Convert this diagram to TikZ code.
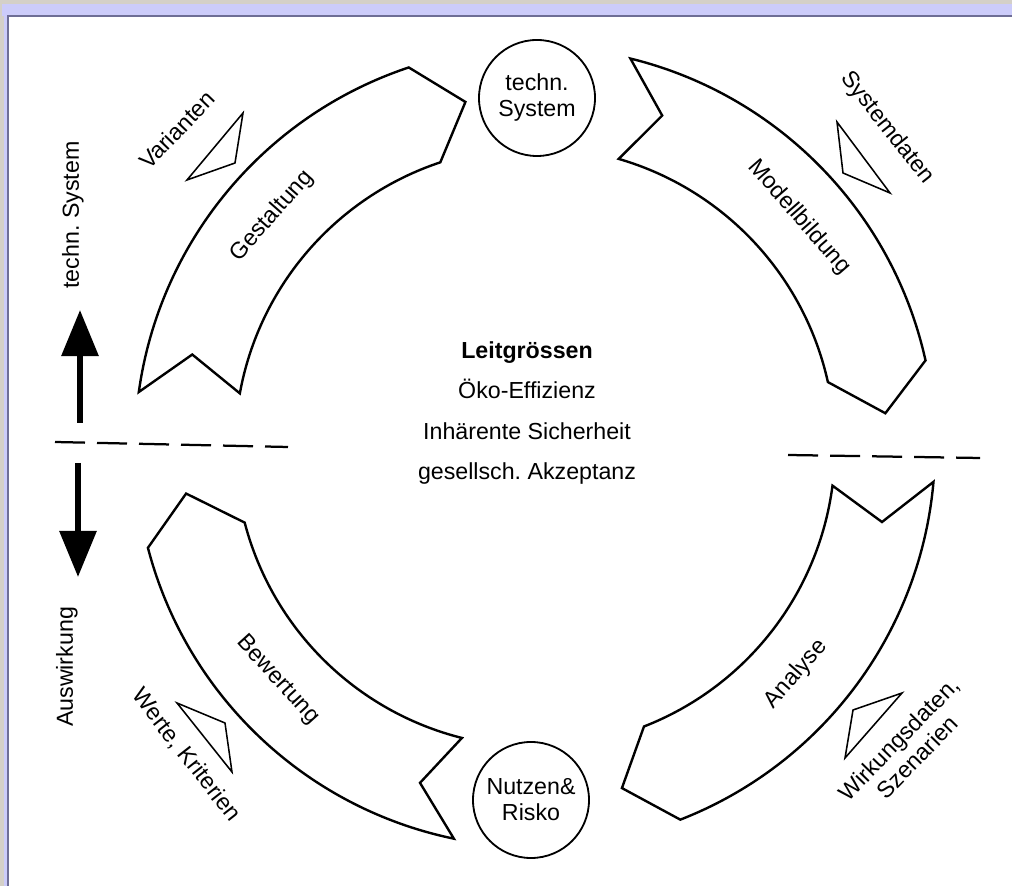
\documentclass[tikz,border=0pt]{standalone}
\usepackage{fontspec}
\setmainfont{Liberation Sans}
\usetikzlibrary{arrows.meta}
\definecolor{winframe}{RGB}{212,208,200}
\definecolor{winbar}{RGB}{204,204,250}
\definecolor{winedge}{RGB}{110,110,150}
\frenchspacing
\newcommand*{\cyclefont}{\fontsize{16.5}{18.5}\selectfont}
% one curved arrow of the cycle, #1 = angle of its notched tail
\newcommand*{\cyclearrow}[1]{%
  \draw[band] (#1+1.2:400) arc[start angle=#1+1.2, end angle=#1-62.5, radius=400]
    -- (#1-69.5:352) -- (#1-62.5:300)
    arc[start angle=#1-62.5, end angle=#1-1.2, radius=300]
    -- (#1-6:355) -- cycle;}

\begin{document}
\begin{tikzpicture}[x=0.025cm, y=0.025cm, >={Triangle[length=1.15cm,width=0.9cm]},
    band/.style={draw, line width=1.7pt, fill=white},
    hub/.style={draw, circle, line width=1.3pt, minimum size=2.9cm, inner sep=0pt, align=center, font=\cyclefont},
    cue/.style={draw, line width=1.1pt},
    tag/.style={font=\cyclefont, inner sep=0pt, align=center},
    split/.style={line width=1.6pt, dash pattern=on 0.75cm off 0.3cm}
  ]
  \useasboundingbox (0,0) rectangle (1012,886);
  % window frame
  \fill[winframe] (0,0) rectangle (1012,886);
  \fill[winbar] (2,870) rectangle (1012,882);
  \fill[winbar] (4,0) rectangle (8,882);
  \fill[white] (8,0) rectangle (1012,870);
  \draw[winedge, line width=0.8pt] (8,0) -- (8,870) -- (1012,870);

  % the cycle
  \begin{scope}[shift={(535,439)}]
    \cyclearrow{170.9}
    \cyclearrow{75}
    \cyclearrow{-6.2}
    \cyclearrow{257.1}
    \node[tag, rotate=48.7] (gest) at (138.7:350) {Gestaltung};
    \node[tag, rotate=-49] (modell) at (41:350) {Modellbildung};
    \node[tag, rotate=49] (analyse) at (-41:346) {Analyse};
    \node[tag, rotate=-47.8] (bewert) at (222.2:347) {Bewertung};
  \end{scope}
  \node[hub] (system) at (537,788) {techn.\\System};
  \node[hub] (nutzen) at (531,86) {Nutzen\&\\Risko};
  \node[tag, font=\fontsize{16.5}{28.5}\selectfont] (leit) at (527,473)
    {\textbf{Leitgrössen}\\Öko-Effizienz\\Inhärente Sicherheit\\gesellsch. Akzeptanz};

  % inputs of the steps
  \node[tag, rotate=46] (var) at (177,756) {Varianten};
  \draw[cue] (243,773) -- (235,723) -- (187,706) -- cycle;
  \node[tag, rotate=-51.6] (sysd) at (887,758) {Systemdaten};
  \draw[cue] (837,764) -- (843,713) -- (890,693) -- cycle;
  \node[tag, rotate=45.7] (wirk) at (908,138) {Wirkungsdaten,\\Szenarien};
  \draw[cue] (853,176) -- (902,193) -- (845,128) -- cycle;
  \node[tag, rotate=-52] (werte) at (186,131) {Werte, Kriterien};
  \draw[cue] (177,183) -- (225,163) -- (232,114) -- cycle;

  % left axis
  \node[tag, rotate=90] (techn) at (73,671) {techn. System};
  \node[tag, rotate=90] (ausw) at (67,219) {Auswirkung};
  \coordinate (upfoot) at (80,463);
  \coordinate (uptip) at (80,576);
  \coordinate (downfoot) at (78,423);
  \coordinate (downtip) at (78,309);
  \draw[->, line width=4.3pt] (upfoot) -- (uptip);
  \draw[->, line width=4.3pt] (downfoot) -- (downtip);
  \coordinate (lcutA) at (55,444);
  \coordinate (lcutB) at (288,439);
  \coordinate (rcutA) at (788,431);
  \coordinate (rcutB) at (980,428);
  \draw[split] (lcutA) -- (lcutB);
  \draw[split] (rcutA) -- (rcutB);
\end{tikzpicture}
\end{document}
